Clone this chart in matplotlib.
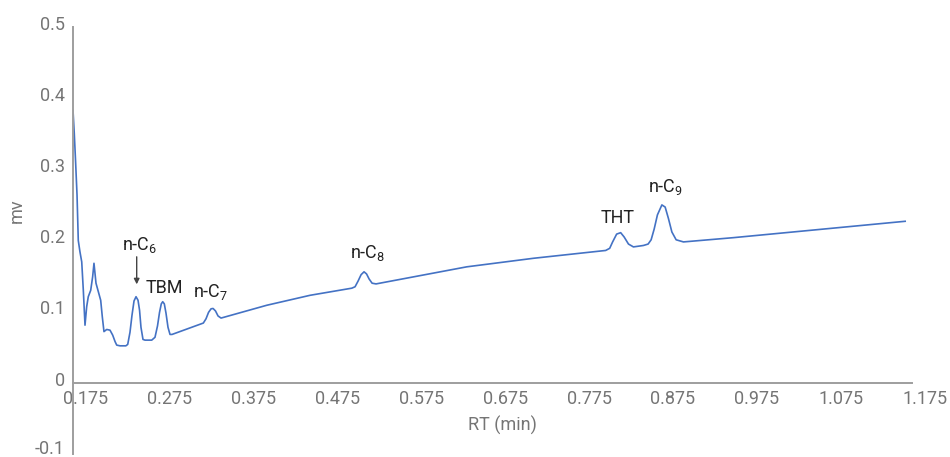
import matplotlib
matplotlib.use('Agg')
import matplotlib.pyplot as plt
from matplotlib.transforms import ScaledTranslation

plt.rcParams['font.family'] = ['Roboto', 'DejaVu Sans']
plt.rcParams['mathtext.fontset'] = 'custom'
plt.rcParams['mathtext.rm'] = 'Roboto'
plt.rcParams['mathtext.default'] = 'regular'

# chromatogram trace (RT in min, signal in mv)
rt = [0.1600, 0.1615, 0.1630, 0.1648, 0.1663, 0.1683, 0.1704, 0.1723, 0.1743, 0.1763,
      0.1782, 0.1811, 0.1834, 0.1850, 0.1874, 0.1902, 0.1930, 0.1949, 0.1969, 0.2002,
      0.2041, 0.2073, 0.2101, 0.2121, 0.2160, 0.2230, 0.2252, 0.2279, 0.2303, 0.2327,
      0.2351, 0.2375, 0.2393, 0.2410, 0.2434, 0.2458, 0.2538, 0.2577, 0.2607, 0.2631,
      0.2652, 0.2669, 0.2688, 0.2708, 0.2732, 0.2756, 0.2780, 0.3153, 0.3185, 0.3215,
      0.3245, 0.3269, 0.3298, 0.3328, 0.3364, 0.3909, 0.4425, 0.4922, 0.4961, 0.4997,
      0.5033, 0.5068, 0.5098, 0.5128, 0.5164, 0.5211, 0.6292, 0.7086, 0.7947, 0.7995,
      0.8030, 0.8078, 0.8126, 0.8167, 0.8219, 0.8278, 0.8397, 0.8453, 0.8489, 0.8525,
      0.8564, 0.8617, 0.8656, 0.8695, 0.8736, 0.8787, 0.8874, 0.9470, 1.1516]
mv = [0.383, 0.351, 0.313, 0.264, 0.200, 0.184, 0.170, 0.130, 0.081, 0.107,
      0.121, 0.130, 0.149, 0.168, 0.140, 0.128, 0.116, 0.093, 0.072, 0.075,
      0.074, 0.067, 0.058, 0.053, 0.052, 0.052, 0.054, 0.071, 0.095, 0.115,
      0.121, 0.116, 0.102, 0.078, 0.061, 0.060, 0.060, 0.064, 0.080, 0.099,
      0.111, 0.114, 0.111, 0.098, 0.078, 0.068, 0.068, 0.084, 0.090, 0.099,
      0.104, 0.1045, 0.101, 0.094, 0.091, 0.109, 0.123, 0.133, 0.135, 0.143,
      0.152, 0.156, 0.153, 0.146, 0.140, 0.139, 0.163, 0.175, 0.186, 0.189,
      0.198, 0.209, 0.211, 0.205, 0.195, 0.191, 0.193, 0.195, 0.201, 0.216,
      0.236, 0.250, 0.247, 0.231, 0.212, 0.201, 0.198, 0.204, 0.227]

x_ticks = [0.175, 0.275, 0.375, 0.475, 0.575, 0.675, 0.775, 0.875, 0.975, 1.075, 1.175]
x_labels = ['0.175', '0.275', '0.375', '0.475', '0.575', '0.675', '0.775', '0.875',
            '0.975', '1.075', '1.175']
y_ticks = [-0.1, 0, 0.1, 0.2, 0.3, 0.4, 0.5]
y_labels = ['-0.1', '0', '0.1', '0.2', '0.3', '0.4', '0.5']

peak_names = ['n-C$_6$', 'TBM', 'n-C$_7$', 'n-C$_8$', 'THT', 'n-C$_9$']
peak_rt = [0.2399, 0.2685, 0.3239, 0.5116, 0.8084, 0.8656]
peak_y = [0.1865, 0.126, 0.1205, 0.1753, 0.2245, 0.2685]

grey = '#757575'

fig = plt.figure(figsize=(9.5, 4.57), dpi=100)
ax = fig.add_axes([73/950, 3/457, (929-73)/950, 427/457])

ax.plot(rt, mv, color='#4472c4', lw=1.2, solid_joinstyle='round')

ax.set_xlim(0.16, 1.18)
ax.set_ylim(-0.1, 0.5)

for s in ['top', 'right']:
    ax.spines[s].set_visible(False)
ax.spines['bottom'].set_position(('data', 0))
ax.spines['bottom'].set_bounds(0.16, 1.16)
ax.spines['left'].set_bounds(-0.1, 0.5)
for s in ['bottom', 'left']:
    ax.spines[s].set_color('#9e9e9e')
    ax.spines[s].set_linewidth(1.4)

ax.set_xticks(x_ticks)
ax.set_xticklabels(x_labels)
ax.set_yticks(y_ticks)
ax.set_yticklabels(y_labels)
ax.tick_params(axis='x', length=0, pad=5, labelsize=13, labelcolor=grey)
ax.tick_params(axis='y', length=0, pad=6, labelsize=13, labelcolor=grey)

# y labels sit a few pixels above their values in the original
for i, lab in enumerate(ax.get_yticklabels()):
    dy = 5/72 if i == 0 else 3/72
    lab.set_transform(lab.get_transform() + ScaledTranslation(0, dy, fig.dpi_scale_trans))

for name, x, y in zip(peak_names, peak_rt, peak_y):
    ax.text(x, y, name, ha='center', va='baseline', fontsize=13, color='#222222')

ax.annotate('', xy=(0.2359, 0.1345), xytext=(0.2359, 0.181),
            arrowprops=dict(arrowstyle='-|>', color='#444444', lw=1, mutation_scale=8))

fig.text(17/950, 1 - 211/457, 'mv', rotation=90, ha='center', va='center',
         fontsize=13, color=grey)
fig.text(502/950, 1 - 425/457, 'RT (min)', ha='center', va='center',
         fontsize=13, color=grey)

fig.savefig('out.png', dpi=100)
